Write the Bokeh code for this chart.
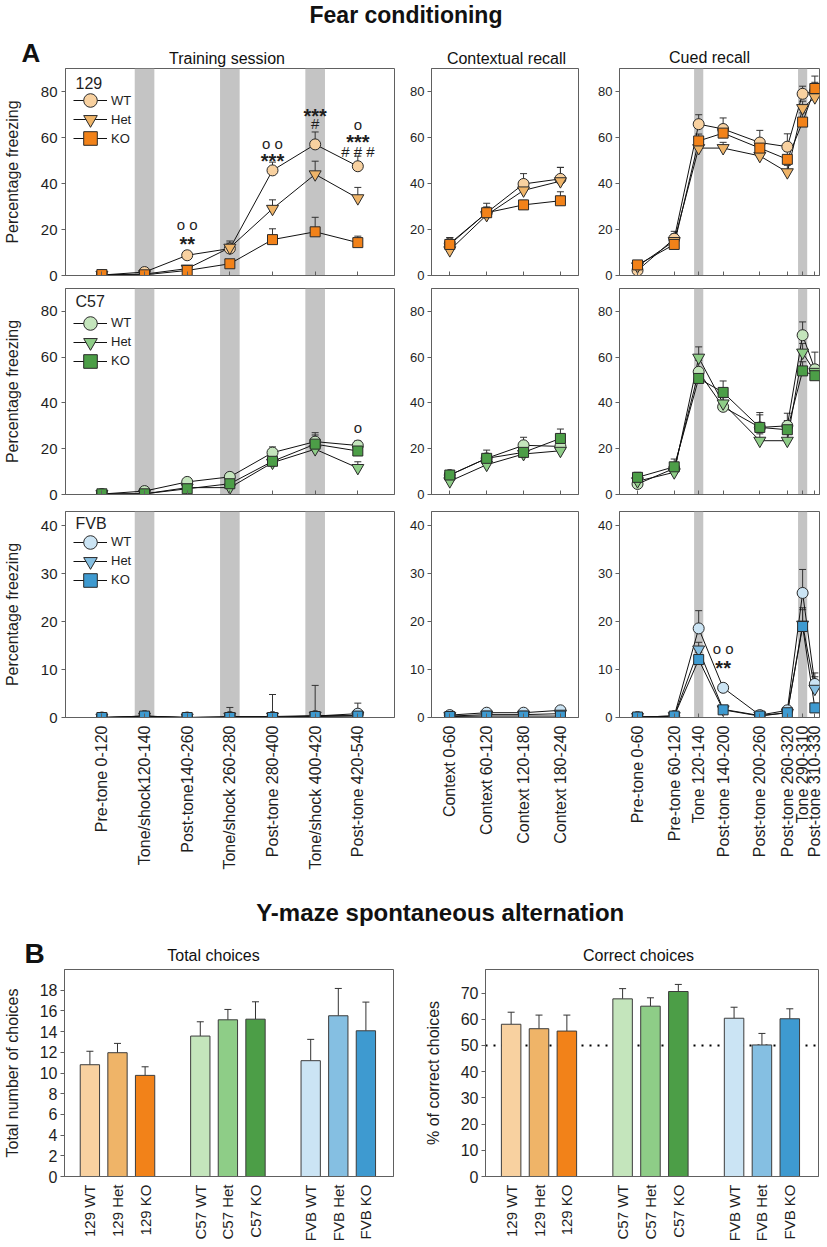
import math
from bokeh.plotting import figure
from bokeh.models import (ColumnDataSource, Whisker, TeeHead, BoxAnnotation, Span,
                          Legend, LegendItem, FixedTicker, Label, Range1d)
from bokeh.layouts import column, row
from bokeh.embed import file_html
from bokeh.resources import INLINE
from bokeh.core.properties import value

FONT = "Liberation Sans"
AXIS_C = "#606060"
TEXT_C = "#1e1e1e"
BASE_FIX = 0.33   # em; lifts alphabetic-baseline labels to their intended baseline

# ---------------- data ----------------
genotypes = ["WT", "Het", "KO"]
strains = ["129", "C57", "FVB"]

train_labels = ["Pre-tone 0-120", "Tone/shock120-140", "Post-tone140-260",
                "Tone/shock 260-280", "Post-tone 280-400", "Tone/shock 400-420",
                "Post-tone 420-540"]
train_shock_epochs = ["Tone/shock120-140", "Tone/shock 260-280", "Tone/shock 400-420"]

ctx_labels = ["Context 0-60", "Context 60-120", "Context 120-180", "Context 180-240"]

cued_labels = ["Pre-tone 0-60", "Pre-tone 60-120", "Tone 120-140", "Post-tone 140-200",
               "Post-tone 200-260", "Post-tone 260-320", "Tone 290-310", "Post-tone 310-330"]
cued_times = [30, 90, 130, 170, 230, 275, 300, 320]
cued_tone_times = [130, 300]

train_129_mean = {"WT": [0.2, 1.5, 8.8, 11.7, 45.7, 57.0, 47.5],
                  "Het": [0.3, 0.6, 3.0, 12.1, 29.0, 44.0, 33.6],
                  "KO": [0.4, 0.3, 2.2, 5.1, 15.6, 19.0, 14.3]}
train_129_sem = {"WT": [0.5, 0.8, 1.5, 3.3, 3.6, 5.4, 4.4],
                 "Het": [0.3, 0.5, 1.0, 2.0, 3.9, 5.7, 4.7],
                 "KO": [0.5, 0.5, 1.0, 1.5, 4.7, 6.3, 2.8]}
train_c57_mean = {"WT": [0.2, 1.5, 5.5, 7.7, 18.3, 23.1, 21.4],
                  "Het": [0.2, 0.3, 3.0, 3.0, 13.9, 19.8, 11.6],
                  "KO": [0.3, 0.3, 2.5, 4.7, 14.5, 22.0, 19.0]}
train_c57_sem = {"WT": [0.5, 0.8, 1.0, 1.2, 2.5, 3.9, 2.0],
                 "Het": [0.3, 0.4, 1.0, 1.5, 2.5, 3.5, 2.7],
                 "KO": [0.4, 0.4, 1.0, 1.5, 2.0, 4.0, 2.5]}
train_fvb_mean = {"WT": [0.0, 0.3, 0.0, 0.1, 0.1, 0.3, 0.8],
                  "Het": [0.0, 0.2, 0.0, 0.2, 0.2, 0.4, 0.4],
                  "KO": [0.0, 0.3, 0.0, 0.0, 0.0, 0.2, 0.3]}
train_fvb_sem = {"WT": [0.1, 0.2, 0.1, 0.3, 0.5, 0.5, 2.2],
                 "Het": [0.1, 0.2, 0.1, 1.9, 4.6, 6.3, 1.0],
                 "KO": [0.1, 0.2, 0.1, 0.5, 0.5, 1.0, 0.5]}

ctx_129_mean = {"WT": [13.9, 27.3, 39.8, 42.0], "Het": [11.0, 26.3, 37.0, 41.0],
                "KO": [13.5, 27.3, 30.7, 32.5]}
ctx_129_sem = {"WT": [2.5, 2.5, 4.5, 5.0], "Het": [2.0, 3.0, 3.0, 6.0], "KO": [3.0, 4.1, 2.0, 3.9]}
ctx_c57_mean = {"WT": [8.5, 15.8, 21.5, 21.0], "Het": [5.8, 13.0, 17.7, 19.1],
                "KO": [8.5, 15.8, 18.4, 24.5]}
ctx_c57_sem = {"WT": [1.5, 2.0, 3.5, 2.5], "Het": [1.5, 2.0, 2.5, 2.5], "KO": [1.5, 3.6, 2.5, 4.1]}
ctx_fvb_mean = {"WT": [0.5, 1.0, 1.0, 1.5], "Het": [0.3, 0.6, 0.6, 0.8], "KO": [0.2, 0.3, 0.3, 0.3]}
ctx_fvb_sem = {"WT": [0.3, 0.3, 0.3, 0.5], "Het": [0.2, 0.2, 0.2, 0.3], "KO": [0.1, 0.2, 0.2, 0.2]}

cued_129_mean = {"WT": [2.2, 16.0, 65.8, 63.7, 57.8, 56.0, 79.0, 80.0],
                 "Het": [4.0, 15.0, 55.4, 55.4, 52.0, 44.9, 72.8, 77.5],
                 "KO": [4.6, 13.5, 58.5, 61.9, 55.4, 50.5, 66.7, 81.3]}
cued_129_sem = {"WT": [1.5, 3.2, 4.1, 4.8, 5.3, 5.6, 3.3, 4.0],
                "Het": [1.5, 3.0, 3.0, 2.5, 3.0, 3.0, 3.0, 4.0],
                "KO": [1.5, 3.0, 3.0, 3.5, 3.5, 3.5, 4.0, 5.4]}
cued_c57_mean = {"WT": [4.6, 11.4, 53.6, 38.3, 29.3, 30.0, 69.6, 54.7],
                 "Het": [5.8, 9.7, 59.8, 39.8, 23.5, 23.5, 62.0, 53.6],
                 "KO": [7.5, 12.1, 50.7, 44.6, 29.3, 28.3, 54.0, 51.9]}
cued_c57_sem = {"WT": [2.5, 2.5, 5.0, 4.0, 5.5, 5.5, 5.8, 7.5],
                "Het": [2.0, 2.0, 4.7, 3.0, 3.0, 3.0, 4.0, 3.0],
                "KO": [2.2, 3.4, 3.0, 5.0, 6.5, 4.0, 4.0, 3.0]}
cued_fvb_mean = {"WT": [0.1, 0.3, 18.6, 6.2, 0.5, 1.5, 26.0, 7.0],
                 "Het": [0.1, 0.3, 14.2, 1.7, 0.4, 1.0, 19.4, 6.0],
                 "KO": [0.1, 0.3, 12.1, 1.6, 0.3, 1.0, 19.0, 2.0]}
cued_fvb_sem = {"WT": [0.2, 0.3, 3.7, 0.8, 0.3, 0.5, 4.9, 1.5],
                "Het": [0.2, 0.3, 1.5, 0.5, 0.3, 0.5, 3.5, 3.3],
                "KO": [0.2, 0.3, 1.5, 0.5, 0.3, 0.5, 3.5, 1.0]}

# significance marks (x = epoch position, y = level of the mark)
sig_train_129 = {"x": [3, 3, 5, 5, 6, 6, 7, 7, 7],
                 "y": [22.8, 16.2, 58.0, 52.2, 72.0, 66.5, 66.2, 60.7, 54.5],
                 "text": ["o o", "**", "o o", "***", "***", "#", "o", "***", "# # #"]}
sig_train_c57 = {"x": [7], "y": [29.8], "text": ["o"]}
sig_cued_fvb = {"x": [170, 170], "y": [14.7, 11.5], "text": ["o o", "**"]}

bar_labels = ["129 WT", "129 Het", "129 KO", "C57 WT", "C57 Het", "C57 KO",
              "FVB WT", "FVB Het", "FVB KO"]
total_mean = [10.8, 11.96, 9.77, 13.57, 15.14, 15.2, 11.19, 15.53, 14.08]
total_sem = [1.3, 0.9, 0.83, 1.38, 1.0, 1.68, 2.06, 2.64, 2.77]
correct_mean = [58.1, 56.4, 55.5, 67.8, 65.0, 70.6, 60.4, 50.2, 60.2]
correct_sem = [4.6, 5.2, 6.1, 3.9, 3.2, 2.7, 4.2, 4.4, 3.8]
chance_level = 50

# ---------------- styles ----------------
COLORS = {"129": ["#F8D1A0", "#EFB468", "#F28219"],
          "C57": ["#C4E5BC", "#8ECD87", "#4C9E47"],
          "FVB": ["#CBE4F4", "#85BFE2", "#3E9AD0"]}
MARKERS = ["circle", "inverted_triangle", "square"]
MSIZE = [11, 12, 10]

FIG_H = [215, 220, 375]
TOP_B = [1, 6, 9]
BOT_B = [7, 8, 160]
FRAME_H = [FIG_H[i] - TOP_B[i] - BOT_B[i] for i in range(3)]
YMAX = [90, 90, 43]
YTICKS = [[0, 20, 40, 60, 80], [0, 20, 40, 60, 80], [0, 10, 20, 30, 40]]
LEG_FIRST = [32, 34.5, 30.7]     # px below frame top of first legend entry
LEG_TITLE = [19.3, 18.7, 17.3]   # px below frame top of legend title baseline

train_x = list(range(1, len(train_labels) + 1))
ctx_x = list(range(1, len(ctx_labels) + 1))
X_POS = {"train": train_x, "ctx": ctx_x, "cued": cued_times}
LABELS = {"train": train_labels, "ctx": ctx_labels, "cued": cued_labels}
BANDS = {"train": [train_labels.index(e) + 1 for e in train_shock_epochs],
         "ctx": [], "cued": cued_tone_times}
DATA = {"train": {"129": (train_129_mean, train_129_sem), "C57": (train_c57_mean, train_c57_sem),
                  "FVB": (train_fvb_mean, train_fvb_sem)},
        "ctx": {"129": (ctx_129_mean, ctx_129_sem), "C57": (ctx_c57_mean, ctx_c57_sem),
                "FVB": (ctx_fvb_mean, ctx_fvb_sem)},
        "cued": {"129": (cued_129_mean, cued_129_sem), "C57": (cued_c57_mean, cued_c57_sem),
                 "FVB": (cued_fvb_mean, cued_fvb_sem)}}
SIG = {("train", "129"): sig_train_129, ("train", "C57"): sig_train_c57,
       ("cued", "FVB"): sig_cued_fvb}

PANEL = {
    "train": dict(width=405, ml=62, mr=11, xr=(0.147, 7.86), ytick="15px", ystand=4, band_hw=0.23),
    "ctx": dict(width=190, ml=26, mr=17, xr=(0.504, 4.49), ytick="13px", ystand=3, band_hw=0.2),
    "cued": dict(width=232, ml=21, mr=8, xr=(0.5, 327.6), ytick="13px", ystand=3, band_hw=7.5),
}


def draw_sig(p, sig):
    star = [i for i, t in enumerate(sig["text"]) if "*" in t]
    other = [i for i, t in enumerate(sig["text"]) if "*" not in t]
    if star:
        p.text(x=[sig["x"][i] for i in star], y=[sig["y"][i] for i in star],
               text=[sig["text"][i] for i in star], text_font=value(FONT),
               text_font_size="20px", text_font_style="bold", text_align="center",
               text_baseline="middle", y_offset=6, text_color=TEXT_C)
    if other:
        p.text(x=[sig["x"][i] for i in other], y=[sig["y"][i] for i in other],
               text=[sig["text"][i] for i in other], text_font=value(FONT),
               text_font_size="15px", text_align="center",
               text_baseline="middle", y_offset=1, text_color=TEXT_C)


def make_line_panel(kind, si):
    cfg = PANEL[kind]
    strain = strains[si]
    fh = FRAME_H[si]
    p = figure(title=None, width=cfg["width"], height=FIG_H[si],
               x_range=Range1d(*cfg["xr"]), y_range=Range1d(0, YMAX[si]),
               toolbar_location=None, output_backend="svg",
               min_border_left=cfg["ml"], min_border_right=cfg["mr"],
               min_border_top=TOP_B[si], min_border_bottom=BOT_B[si])
    p.xgrid.visible = False
    p.ygrid.visible = False
    p.outline_line_color = AXIS_C
    p.background_fill_color = "white"

    xs = X_POS[kind]
    for c in BANDS[kind]:
        p.add_layout(BoxAnnotation(left=c - cfg["band_hw"], right=c + cfg["band_hw"],
                                   fill_color="#C4C4C4", fill_alpha=1.0, line_color=None,
                                   level="image"))
    means, sems = DATA[kind][strain]
    cols = COLORS[strain]
    srcs = []
    for g in genotypes:
        m, s = means[g], sems[g]
        srcs.append(ColumnDataSource(dict(x=xs, y=m, upper=[a + b for a, b in zip(m, s)])))
    for src in srcs:
        p.add_layout(Whisker(source=src, base="x", upper="upper", lower="y", dimension="height",
                             level="underlay", line_color="#333333", line_width=1,
                             upper_head=TeeHead(size=7, line_color="#333333", line_width=1),
                             lower_head=None))
    lines = [p.line("x", "y", source=src, line_color="#111111", line_width=1) for src in srcs]
    dots = [p.scatter("x", "y", source=src, marker=MARKERS[gi], size=MSIZE[gi],
                      fill_color=cols[gi], line_color="#2a2a2a", line_width=1)
            for gi, src in enumerate(srcs)]

    if kind == "train":
        for i, g in enumerate(genotypes):
            leg = Legend(items=[LegendItem(label=g, renderers=[lines[i], dots[i]])],
                         location=(8, fh - LEG_FIRST[si] - 19 * i - 17), margin=0, padding=0,
                         spacing=0, glyph_width=34, glyph_height=34, label_height=34,
                         label_standoff=4, label_text_font=FONT, label_text_font_size="13px",
                         label_text_color=TEXT_C, border_line_color=None,
                         background_fill_alpha=0)
            p.add_layout(leg)
        p.add_layout(Label(x=10, y=fh - LEG_TITLE[si] + BASE_FIX * 16, x_units="screen",
                           y_units="screen", text=strain, text_font=FONT,
                           text_font_size="16px", text_color=TEXT_C,
                           text_baseline="alphabetic"))

    sig = SIG.get((kind, strain))
    if sig:
        draw_sig(p, sig)

    xa = p.xaxis[0]
    xa.ticker = FixedTicker(ticks=xs)
    xa.major_tick_in = 4
    xa.major_tick_out = 0
    xa.minor_tick_line_color = None
    xa.axis_line_color = AXIS_C
    xa.major_tick_line_color = AXIS_C
    if si == 2:
        xa.major_label_overrides = {x: l for x, l in zip(xs, LABELS[kind])}
        xa.major_label_orientation = math.pi / 2
        xa.major_label_text_font = FONT
        xa.major_label_text_font_size = "16px"
        xa.major_label_text_color = TEXT_C
        xa.major_label_standoff = 8
    else:
        xa.major_label_text_color = None
        xa.major_label_text_font_size = "1px"
        xa.major_label_standoff = 0

    ya = p.yaxis[0]
    ya.ticker = FixedTicker(ticks=YTICKS[si])
    ya.major_tick_in = 0
    ya.major_tick_out = 4
    ya.minor_tick_line_color = None
    ya.axis_line_color = AXIS_C
    ya.major_tick_line_color = AXIS_C
    ya.major_label_text_font = FONT
    ya.major_label_text_font_size = cfg["ytick"]
    ya.major_label_text_color = TEXT_C
    ya.major_label_standoff = cfg["ystand"]
    if kind == "train":
        ya.axis_label = "Percentage freezing"
        ya.axis_label_text_font = FONT
        ya.axis_label_text_font_size = "16px"
        ya.axis_label_text_font_style = "normal"
        ya.axis_label_text_color = TEXT_C
        ya.axis_label_standoff = 17
    return p


bar_x = [i + 1 + i // 3 for i in range(len(bar_labels))]
bar_colors = [COLORS[s][g] for s in strains for g in range(3)]


def make_bar_panel(means, sems, ymax, yticks, ylabel, width, ml, mr, xr, ylab_stand,
                   chance=None):
    p = figure(title=None, width=width, height=279, x_range=Range1d(*xr),
               y_range=Range1d(0, ymax), toolbar_location=None, output_backend="svg",
               min_border_left=ml, min_border_right=mr, min_border_top=1, min_border_bottom=71)
    p.xgrid.visible = False
    p.ygrid.visible = False
    p.outline_line_color = AXIS_C
    if chance is not None:
        p.add_layout(Span(location=chance, dimension="width", line_color="black", line_width=2,
                          line_dash="2 6", level="underlay"))
    src = ColumnDataSource(dict(x=bar_x, top=means, upper=[a + b for a, b in zip(means, sems)],
                                color=bar_colors))
    p.vbar(x="x", top="top", width=0.7, source=src, fill_color="color", line_color="#3c3c3c",
           line_width=1)
    p.add_layout(Whisker(source=src, base="x", upper="upper", lower="top", dimension="height",
                         line_color="#333333", line_width=1,
                         upper_head=TeeHead(size=7, line_color="#333333", line_width=1),
                         lower_head=None))
    xa = p.xaxis[0]
    xa.ticker = FixedTicker(ticks=bar_x)
    xa.major_label_overrides = {x: l for x, l in zip(bar_x, bar_labels)}
    xa.major_label_orientation = math.pi / 2
    xa.major_label_text_font = FONT
    xa.major_label_text_font_size = "15px"
    xa.major_label_text_color = TEXT_C
    xa.major_label_standoff = 8
    xa.major_tick_in = 0
    xa.major_tick_out = 0
    xa.minor_tick_line_color = None
    xa.axis_line_color = AXIS_C
    ya = p.yaxis[0]
    ya.ticker = FixedTicker(ticks=yticks)
    ya.major_tick_in = 0
    ya.major_tick_out = 4
    ya.minor_tick_line_color = None
    ya.axis_line_color = AXIS_C
    ya.major_tick_line_color = AXIS_C
    ya.major_label_text_font = FONT
    ya.major_label_text_font_size = "16px"
    ya.major_label_text_color = TEXT_C
    ya.major_label_standoff = 3
    ya.axis_label = ylabel
    ya.axis_label_text_font = FONT
    ya.axis_label_text_font_size = "16px"
    ya.axis_label_text_font_style = "normal"
    ya.axis_label_text_color = TEXT_C
    ya.axis_label_standoff = ylab_stand
    return p


def heading(h, texts):
    f = figure(width=827, height=h, x_range=Range1d(0, 827), y_range=Range1d(0, h),
               toolbar_location=None, output_backend="svg", min_border=0,
               x_axis_location=None, y_axis_location=None, title=None)
    f.xgrid.visible = False
    f.ygrid.visible = False
    f.outline_line_color = None
    for text, x, y, size, style, align in texts:
        f.add_layout(Label(x=x, y=y + BASE_FIX * size, text=text, text_align=align,
                           text_baseline="alphabetic", text_font=FONT,
                           text_font_size=f"{size}px", text_font_style=style,
                           text_color="#111111"))
    return f


# heading texts: (text, x, baseline height above the strip's bottom, size, style, align)
head1 = heading(67, [("Fear conditioning", 405.5, 45.3, 23, "bold", "center"),
                     ("A", 21, 5.5, 26, "bold", "left"),
                     ("Training session", 226.5, 3.7, 16, "normal", "center"),
                     ("Contextual recall", 506, 3.7, 16, "normal", "center"),
                     ("Cued recall", 709, 4.3, 16, "normal", "center")])
cols = []
for kind in ["train", "ctx", "cued"]:
    cols.append(column(*[make_line_panel(kind, si) for si in range(3)]))
top = row(*cols)
head2 = heading(91, [("Y-maze spontaneous alternation", 439.7, 48, 24, "bold", "center"),
                     ("B", 24, 6, 28, "bold", "left"),
                     ("Total choices", 213, 7.3, 16, "normal", "center"),
                     ("Correct choices", 638, 8, 16, "normal", "center")])
bar1 = make_bar_panel(total_mean, total_sem, 20, list(range(0, 19, 2)),
                      "Total number of choices", 410, 60, 17, (0.08, 12.0), 16)
bar2 = make_bar_panel(correct_mean, correct_sem, 79, list(range(0, 71, 10)),
                      "% of correct choices", 417, 75, 9, (0.08, 12.03), 16, chance=chance_level)
bars = row(bar1, bar2)
layout = column(head1, top, head2, bars)

open("out.html", "w").write(file_html(layout, INLINE))
